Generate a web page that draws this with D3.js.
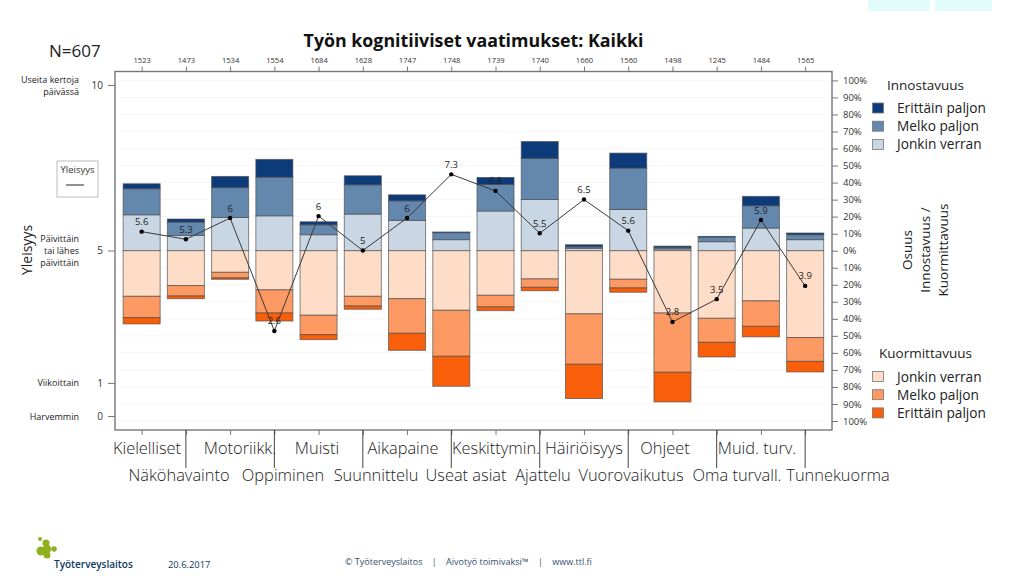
<!DOCTYPE html>
<html>
<head>
<meta charset="utf-8">
<script src="https://cdnjs.cloudflare.com/ajax/libs/d3/7.8.5/d3.min.js"></script>
<style>
  html, body { margin: 0; padding: 0; background: #fff; }
  svg { display: block; font-family: "Open Sans", "Noto Sans", sans-serif; }
  .frame { fill: none; stroke: #777; stroke-width: 1.4; }
  .axis path { display: none; }
  .axis line { stroke: #777; }
  .axis text { fill: #333; font-size: 9.5px; font-family: "Open Sans", sans-serif; }
</style>
</head>
<body>
<svg id="chart" width="1024" height="576"></svg>
<script>
const counts = [1523, 1473, 1534, 1554, 1684, 1628, 1747, 1748, 1739, 1740, 1660, 1560, 1498, 1245, 1484, 1565];
const frequency = [5.57, 5.34, 5.98, 2.57, 6.04, 5, 5.98, 7.3, 6.8, 5.52, 6.54, 5.6, 2.84, 3.53, 5.92, 3.93];

// innostavuus, share of answers %
const innoJonkin = [21.1, 9, 19.5, 20.5, 9.4, 21.5, 17.8, 6.5, 23.3, 30.1, 1.4, 24.2, 1, 5.3, 13.3, 6.5];
const innoMelko = [15.3, 7.8, 17.6, 22.7, 5.8, 17.2, 11.5, 4.1, 15.6, 24.1, 0.9, 24.3, 0.8, 2.7, 13.1, 2.9];
const innoErittain = [2.9, 1.8, 6.5, 10.4, 1.8, 5.3, 3.5, 0.4, 4.1, 9.9, 1.2, 8.8, 0.9, 0.4, 5.5, 1];

// kuormittavuus, share of answers %
const kuormJonkin = [26.8, 20.5, 12.7, 23, 37.9, 26.8, 28.2, 35, 26.2, 16.6, 37.1, 16.8, 36.6, 39.7, 29.5, 51];
const kuormMelko = [12.5, 6.1, 3.3, 13.6, 11.4, 5.7, 20.3, 27, 6.8, 4.9, 29.6, 5.1, 34.8, 14.1, 14.9, 14];
const kuormErittain = [3.7, 1.6, 0.8, 4.7, 2.9, 1.9, 10, 17.6, 2.2, 2, 20.1, 2.5, 17.4, 8.6, 6.2, 6.2];

const topicsRow1 = ['Kielelliset', 'Motoriikk.', 'Muisti', 'Aikapaine', 'Keskittymin.', 'Häiriöisyys', 'Ohjeet', 'Muid. turv.'];
const topicsRow2 = ['Näköhavainto', 'Oppiminen', 'Suunnittelu', 'Useat asiat', 'Ajattelu', 'Vuorovaikutus', 'Oma turvall.', 'Tunnekuorma'];

const freqTicks = [0, 1, 5, 10];
const shareTicks = d3.range(-100, 101, 10);

const colors = {
    innoJonkin: '#c9d6e4', innoMelko: '#6487ae', innoErittain: '#0d3b7a',
    kuormJonkin: '#fddcc8', kuormMelko: '#fd9a64', kuormErittain: '#f95f0a'
};

const svg = d3.select('#chart');
const plotL = 115, plotR = 832, plotT = 71.5, plotB = 430;

const x = d3.scaleBand().domain(d3.range(counts.length)).range([119.6, 827.2]).paddingInner(0.163).paddingOuter(0.08);
const xc = i => x(i) + x.bandwidth() / 2;
const yShare = d3.scaleLinear().domain([-100, 100]).range([421, 80.4]);
const yFreq = d3.scaleLinear().domain([0, 10]).range([416, 85]);

// pale corner shapes from the slide background
svg.append('g').selectAll('rect').data([[868, 62], [935, 57]]).join('rect')
    .attr('x', d => d[0]).attr('y', 0).attr('width', d => d[1]).attr('height', 11).attr('fill', '#e2fbfb');

// grid
svg.append('g').selectAll('line').data(shareTicks).join('line')
    .attr('x1', plotL + 4).attr('x2', plotR - 4)
    .attr('y1', d => yShare(d)).attr('y2', d => yShare(d))
    .attr('stroke', '#f6f6f6').attr('stroke-width', 1);

// stacked bars
const keys = ['innoJonkin', 'innoMelko', 'innoErittain', 'kuormJonkin', 'kuormMelko', 'kuormErittain'];
const table = counts.map((_, i) => ({
    innoJonkin: innoJonkin[i], innoMelko: innoMelko[i], innoErittain: innoErittain[i],
    kuormJonkin: -kuormJonkin[i], kuormMelko: -kuormMelko[i], kuormErittain: -kuormErittain[i]
}));
const stacked = d3.stack().keys(keys).offset(d3.stackOffsetDiverging)(table);

svg.append('g').selectAll('g').data(stacked).join('g')
    .attr('fill', s => colors[s.key])
    .selectAll('rect').data(s => s).join('rect')
    .attr('x', (d, i) => x(i))
    .attr('width', x.bandwidth())
    .attr('y', d => yShare(d[1]))
    .attr('height', d => yShare(d[0]) - yShare(d[1]))
    .attr('stroke', '#4a4a4a').attr('stroke-opacity', 0.65).attr('stroke-width', 1);

svg.append('rect').attr('class', 'frame')
    .attr('x', plotL).attr('y', plotT).attr('width', plotR - plotL).attr('height', plotB - plotT);

// axes
const xPos = d3.scalePoint().domain(d3.range(counts.length)).range([xc(0), xc(counts.length - 1)]);
const axisTop = svg.append('g').attr('class', 'axis').attr('transform', `translate(0,${plotT})`)
    .call(d3.axisTop(xPos).tickSize(5).tickFormat(i => counts[i]));
axisTop.selectAll('text').style('font-size', '7.6px').attr('dy', '-1px');

svg.append('g').attr('class', 'axis').attr('transform', `translate(0,${plotB})`)
    .call(d3.axisBottom(xPos).tickSize(5).tickFormat(''));

const axisLeft = svg.append('g').attr('class', 'axis').attr('transform', `translate(${plotL},0)`)
    .call(d3.axisLeft(yFreq).tickValues(freqTicks).tickSize(7).tickPadding(5));
axisLeft.selectAll('text').style('font-size', '10px');

const axisRight = svg.append('g').attr('class', 'axis').attr('transform', `translate(${plotR},0)`)
    .call(d3.axisRight(yShare).tickValues(shareTicks).tickSize(6).tickPadding(5).tickFormat(d => Math.abs(d) + '%'));
axisRight.selectAll('text').style('font-size', '9.5px');

// frequency line
const line = d3.line().x((d, i) => xc(i)).y(d => yFreq(d));
svg.append('path').datum(frequency).attr('d', line)
    .attr('fill', 'none').attr('stroke', '#3a3a3a').attr('stroke-width', 1);
svg.append('g').selectAll('circle').data(frequency).join('circle')
    .attr('cx', (d, i) => xc(i)).attr('cy', d => yFreq(d)).attr('r', 2.2).attr('fill', '#000');
svg.append('g').selectAll('text').data(frequency).join('text')
    .attr('x', (d, i) => xc(i)).attr('y', d => yFreq(d) - 6.5)
    .attr('text-anchor', 'middle').attr('font-size', 9.5).attr('fill', '#222')
    .text(d => +d.toFixed(1));

// titles
svg.append('text').attr('x', 473.5).attr('y', 47).attr('text-anchor', 'middle')
    .attr('font-size', 17.8).attr('font-weight', 700).attr('fill', '#111')
    .text('Työn kognitiiviset vaatimukset: Kaikki');
svg.append('text').attr('x', 49).attr('y', 57).attr('font-size', 17).attr('fill', '#222').text('N=607');

// left side texts
const leftNotes = [
    { lines: ['Useita kertoja', 'päivässä'], y: yFreq(10) - 6 },
    { lines: ['Päivittäin', 'tai lähes', 'päivittäin'], y: yFreq(5) - 12 },
    { lines: ['Viikoittain'], y: yFreq(1) },
    { lines: ['Harvemmin'], y: yFreq(0) }
];
leftNotes.forEach(n => {
    n.lines.forEach((t, i) => {
        svg.append('text').attr('x', 79).attr('y', n.y + i * 12 + 3.5)
            .attr('text-anchor', 'end').attr('font-size', 9).attr('font-weight', 500).attr('fill', '#222').text(t);
    });
});
svg.append('text').attr('transform', 'translate(32,250) rotate(-90)')
    .attr('text-anchor', 'middle').attr('font-size', 14).attr('fill', '#222').text('Yleisyys');

svg.append('rect').attr('x', 57).attr('y', 161).attr('width', 41).attr('height', 36)
    .attr('fill', '#fff').attr('stroke', '#bbb');
svg.append('text').attr('x', 77.5).attr('y', 173).attr('text-anchor', 'middle')
    .attr('font-size', 9.5).attr('fill', '#333').text('Yleisyys');
svg.append('line').attr('x1', 66).attr('x2', 84).attr('y1', 185).attr('y2', 185)
    .attr('stroke', '#222');

// right side texts
const legend = (title, titleX, titleY, rows, y0) => {
    svg.append('text').attr('x', titleX).attr('y', titleY).attr('font-size', 13.5).attr('fill', '#222').text(title);
    rows.forEach((r, i) => {
        const yy = y0 + i * 18.2;
        svg.append('rect').attr('x', 872.5).attr('y', yy - 5).attr('width', 11).attr('height', 10)
            .attr('fill', colors[r[1]]).attr('stroke', '#777').attr('stroke-width', 0.8);
        svg.append('text').attr('x', 897).attr('y', yy + 5).attr('font-size', 13.7).attr('fill', '#222').text(r[0]);
    });
};
legend('Innostavuus', 887, 90, [['Erittäin paljon', 'innoErittain'], ['Melko paljon', 'innoMelko'], ['Jonkin verran', 'innoJonkin']], 108);
legend('Kuormittavuus', 879, 358, [['Jonkin verran', 'kuormJonkin'], ['Melko paljon', 'kuormMelko'], ['Erittäin paljon', 'kuormErittain']], 376.5);

[['Osuus', 912], ['Innostavuus /', 930], ['Kuormittavuus', 948]].forEach(d => {
    svg.append('text').attr('transform', `translate(${d[1]},250) rotate(-90)`)
        .attr('text-anchor', 'middle').attr('font-size', 13.5).attr('fill', '#222').text(d[0]);
});

// hand placed topic labels under the axis, dividers on every second tick
const row1X = [147, 240, 317, 403, 496, 584, 665, 757];
const row2X = [179, 283, 376, 466, 543, 631, 737, 838];
const lbl = (names, xs, y) => names.forEach((t, i) => {
    svg.append('text').attr('x', xs[i]).attr('y', y).attr('text-anchor', 'middle')
        .attr('font-size', 16.4).attr('font-weight', 300).attr('fill', '#222').text(t);
});
lbl(topicsRow1, row1X, 454);
lbl(topicsRow2, row2X, 481);
svg.append('g').selectAll('line').data(d3.range(1, counts.length, 2)).join('line')
    .attr('x1', i => xc(i)).attr('x2', i => xc(i)).attr('y1', plotB).attr('y2', 468)
    .attr('stroke', '#444').attr('stroke-width', 1);

// footer
const logo = svg.append('g').attr('fill', '#8fb01f');
[[40, 539, 2], [46, 543, 3.5], [41, 551, 4.5], [47, 549, 4], [54, 549, 2.8], [47, 555, 3.5]].forEach(c => {
    logo.append('circle').attr('cx', c[0]).attr('cy', c[1]).attr('r', c[2]);
});
svg.append('text').attr('x', 54).attr('y', 568).attr('font-size', 10).attr('font-weight', 600).attr('fill', '#0a3a5e').text('Työterveyslaitos');
svg.append('text').attr('x', 168).attr('y', 568).attr('font-size', 9.4).attr('fill', '#0a3a5e').text('20.6.2017');
svg.append('text').attr('x', 345).attr('y', 565).attr('font-size', 9).attr('fill', '#33506a')
    .style('white-space', 'pre')
    .text('© Työterveyslaitos    |    Aivotyö toimivaksi™    |    www.ttl.fi');
</script>
</body>
</html>
